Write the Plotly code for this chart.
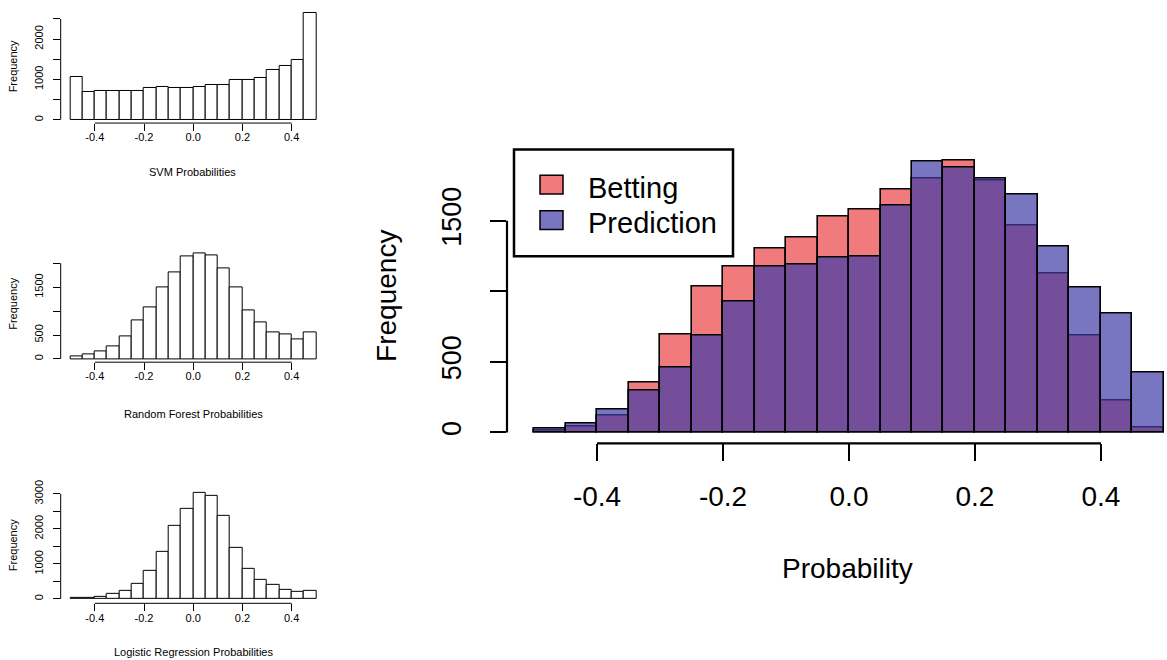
import plotly.graph_objects as go

W, H = 1167, 660
OFF = 0  # body margin removed via post_script

# ---------------- data ----------------
bin_centers = [-0.475, -0.425, -0.375, -0.325, -0.275, -0.225, -0.175, -0.125, -0.075, -0.025,
               0.025, 0.075, 0.125, 0.175, 0.225, 0.275, 0.325, 0.375, 0.425, 0.475]

svm_counts = [1061, 686, 718, 702, 702, 702, 776, 816, 792, 792,
              816, 873, 873, 996, 996, 1045, 1241, 1339, 1486, 2645]
rf_counts = [48, 97, 159, 255, 476, 800, 1069, 1490, 1807, 2138,
             2214, 2172, 1890, 1497, 1021, 766, 559, 510, 414, 545]
lr_counts = [38, 38, 66, 132, 226, 423, 800, 1345, 2088, 2559,
             3020, 2944, 2380, 1458, 865, 555, 405, 273, 198, 226]

betting = [12, 40, 121, 350, 696, 1033, 1175, 1304, 1383, 1528,
           1577, 1722, 1799, 1928, 1783, 1467, 1126, 685, 222, 37]
prediction = [30, 62, 159, 297, 460, 685, 928, 1175, 1192, 1238,
              1243, 1605, 1916, 1876, 1800, 1682, 1320, 1023, 841, 427]

x_ticks = [-0.4, -0.2, 0.0, 0.2, 0.4]
x_ticklabels = ["-0.4", "-0.2", "0.0", "0.2", "0.4"]

big_yticks = [0, 500, 1000, 1500]
big_ylabels = ["0", "500", "", "1500"]
svm_yticks = [0, 500, 1000, 1500, 2000, 2500]
svm_ylabels = ["0", "", "1000", "", "2000", ""]
rf_yticks = [0, 500, 1000, 1500, 2000]
rf_ylabels = ["0", "500", "", "1500", ""]
lr_yticks = [0, 500, 1000, 1500, 2000, 2500, 3000]
lr_ylabels = ["0", "", "1000", "", "2000", "", "3000"]

RED = "rgba(228,13,17,0.55)"
BLUE = "rgba(62,60,167,0.70)"
FONT = "Liberation Sans, Arial, Helvetica, sans-serif"

FW, FH = W - OFF, H - OFF


def px(x):
    return (x - OFF) / FW


def py(y):
    return 1 - (y - OFF) / FH


fig = go.Figure()

# small histograms
for counts, xa, ya in [(svm_counts, "x2", "y2"), (rf_counts, "x3", "y3"), (lr_counts, "x4", "y4")]:
    fig.add_trace(go.Bar(x=bin_centers, y=counts, width=0.05, xaxis=xa, yaxis=ya,
                         marker=dict(color="white", line=dict(color="black", width=1)),
                         showlegend=False, hoverinfo="x+y"))

# big overlay histogram
fig.add_trace(go.Bar(x=bin_centers, y=betting, width=0.05, name="Betting", xaxis="x", yaxis="y",
                     marker=dict(color=RED, line=dict(color="black", width=1.6)), showlegend=False))
fig.add_trace(go.Bar(x=bin_centers, y=prediction, width=0.05, name="Prediction", xaxis="x", yaxis="y",
                     marker=dict(color=BLUE, line=dict(color="black", width=1.6)), showlegend=False))


def xaxis_cfg(domain, rng, size, ticklen, tickwidth, standoff):
    return dict(domain=domain, range=rng, showgrid=False, zeroline=False, showline=False,
                tickmode="array", tickvals=x_ticks, ticktext=x_ticklabels,
                ticks="outside", ticklen=ticklen, tickwidth=tickwidth, tickcolor="black",
                tickfont=dict(size=size, color="black", family=FONT),
                ticklabelstandoff=standoff, fixedrange=True)


def yaxis_cfg(domain, rng, vals, labels, size, ticklen, tickwidth, standoff, anchor):
    return dict(domain=domain, range=rng, showgrid=False, zeroline=False, showline=False,
                tickmode="array", tickvals=vals, ticktext=labels, tickangle=-90,
                ticks="outside", ticklen=ticklen, tickwidth=tickwidth, tickcolor="black",
                tickfont=dict(size=size, color="black", family=FONT),
                ticklabelstandoff=standoff, anchor=anchor, fixedrange=True)


small_xdom = [px(60.7), px(320)]
small_xrange = [-0.5386, 0.5154]

fig.update_layout(
    width=FW, height=FH, autosize=False,
    margin=dict(l=0, r=0, t=0, b=0),
    paper_bgcolor="white", plot_bgcolor="white",
    barmode="overlay", bargap=0,
    font=dict(family=FONT, color="black"),
    xaxis=xaxis_cfg([px(507), 1.0], [-0.5429, 0.5048], 28, 17, 2.2, 11) | dict(anchor="y"),
    yaxis=yaxis_cfg([py(441), py(130)], [-77.1, 2102.8], big_yticks, big_ylabels, 27, 16, 2.2, 18, "x"),
    xaxis2=xaxis_cfg(small_xdom, small_xrange, 11, 7, 1, -3) | dict(anchor="y2"),
    yaxis2=yaxis_cfg([py(117.3), py(2)], [-80.9, (114 - 2) / 0.0408], svm_yticks, svm_ylabels, 11, 7, 1, 5, "x2"),
    xaxis3=xaxis_cfg(small_xdom, small_xrange, 11, 7, 1, -3) | dict(anchor="y3"),
    yaxis3=yaxis_cfg([py(359), py(245)], [-68.3, 2290.5], rf_yticks, rf_ylabels, 11, 7, 1, 5, "x3"),
    xaxis4=xaxis_cfg(small_xdom, small_xrange, 11, 7, 1, -3) | dict(anchor="y4"),
    yaxis4=yaxis_cfg([py(602.7), py(485)], [-124.2, 3197.9], lr_yticks, lr_ylabels, 11, 7, 1, 5, "x4"),
)

shapes = []
# R-style axis lines
for xa, ya, ymax, bottom_px, lw in [("x", "y", 1500, 441, 2.2), ("x2", "y2", 2500, 117.3, 1),
                                     ("x3", "y3", 2000, 359, 1), ("x4", "y4", 3000, 602.7, 1)]:
    shapes.append(dict(type="line", xref=xa, yref="paper", x0=x_ticks[0], x1=x_ticks[-1],
                       y0=py(bottom_px), y1=py(bottom_px), line=dict(color="black", width=lw)))
    left_px = 507 if xa == "x" else 60.7
    shapes.append(dict(type="line", xref="paper", yref=ya, x0=px(left_px), x1=px(left_px),
                       y0=0, y1=ymax, line=dict(color="black", width=lw)))

# legend box
shapes.append(dict(type="rect", xref="paper", yref="paper", x0=px(514), x1=px(733),
                   y0=py(252), y1=py(144), line=dict(color="black", width=2.5), fillcolor="white"))
shapes.append(dict(type="rect", xref="paper", yref="paper", x0=px(540), x1=px(563),
                   y0=py(189), y1=py(170), line=dict(color="black", width=1.5), fillcolor=RED))
shapes.append(dict(type="rect", xref="paper", yref="paper", x0=px(540), x1=px(563),
                   y0=py(225), y1=py(206), line=dict(color="black", width=1.5), fillcolor=BLUE))
fig.update_layout(shapes=shapes)

annotations = [
    dict(text="Betting", x=px(586), y=py(183), xanchor="left", yanchor="middle", size=29),
    dict(text="Prediction", x=px(586), y=py(218), xanchor="left", yanchor="middle", size=29),
    dict(text="Probability", x=px(847), y=py(568), xanchor="center", yanchor="middle", size=28),
    dict(text="Frequency", x=px(387), y=py(292), xanchor="center", yanchor="middle", size=28, angle=-90),
    dict(text="SVM Probabilities", x=px(192), y=py(166.7), xanchor="center", yanchor="middle", size=11),
    dict(text="Random Forest Probabilities", x=px(193), y=py(411.7), xanchor="center", yanchor="middle", size=11),
    dict(text="Logistic Regression Probabilities", x=px(193), y=py(651.7), xanchor="center", yanchor="middle", size=11),
    dict(text="Frequency", x=px(13), y=py(60), xanchor="center", yanchor="middle", size=11, angle=-90),
    dict(text="Frequency", x=px(13), y=py(300), xanchor="center", yanchor="middle", size=11, angle=-90),
    dict(text="Frequency", x=px(13), y=py(544), xanchor="center", yanchor="middle", size=11, angle=-90),
]
for a in annotations:
    fig.add_annotation(text=a["text"], x=a["x"], y=a["y"], xref="paper", yref="paper",
                       xanchor=a["xanchor"], yanchor=a["yanchor"], showarrow=False,
                       textangle=a.get("angle", 0),
                       font=dict(size=a["size"], color="black", family=FONT))

fig.write_html("out.html", config={"displayModeBar": False},
               post_script="document.body.style.margin='0px';")
